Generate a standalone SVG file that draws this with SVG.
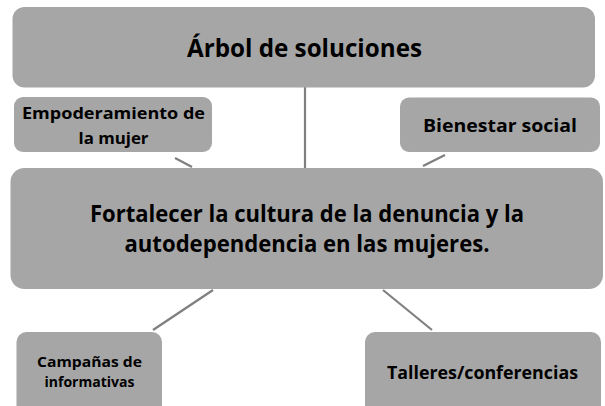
<svg xmlns="http://www.w3.org/2000/svg" width="605" height="406" viewBox="0 0 605 406">
<style>
.box{fill:#a6a6a6;}
.t{font-family:"Open Sans","Liberation Sans",sans-serif;font-weight:bold;fill:#000;text-anchor:middle;}
.c{stroke:#7f7f7f;stroke-width:2.2;fill:none;}
</style>
<rect width="605" height="406" fill="#fff"/>
<g id="connectors">
<line class="c" x1="305" y1="87" x2="305" y2="168"/>
<line class="c" x1="175" y1="158" x2="192" y2="167"/>
<line class="c" x1="423" y1="166" x2="445" y2="155"/>
<line class="c" x1="213" y1="290" x2="153" y2="330"/>
<line class="c" x1="383" y1="290" x2="432" y2="330"/>
</g>
<g id="top">
<rect class="box" x="12.5" y="7" width="582.5" height="80.5" rx="12"/>
<text class="t" x="304.5" y="57" font-size="25" textLength="235" lengthAdjust="spacingAndGlyphs">Árbol de soluciones</text>
</g>
<g id="empoderamiento">
<rect class="box" x="14" y="97" width="198" height="55" rx="9"/>
<text class="t" x="113.5" y="119" font-size="16" textLength="183" lengthAdjust="spacingAndGlyphs">Empoderamiento de</text>
<text class="t" x="113.5" y="144" font-size="16" textLength="70" lengthAdjust="spacingAndGlyphs">la mujer</text>
</g>
<g id="bienestar">
<rect class="box" x="400" y="97.5" width="200" height="54.5" rx="9"/>
<text class="t" x="500" y="132" font-size="18" textLength="154" lengthAdjust="spacingAndGlyphs">Bienestar social</text>
</g>
<g id="main">
<rect class="box" x="10.5" y="168" width="592.5" height="121" rx="14"/>
<text class="t" x="307" y="222" font-size="22.5" textLength="434" lengthAdjust="spacingAndGlyphs">Fortalecer la cultura de la denuncia y la</text>
<text class="t" x="307" y="252" font-size="22.5" textLength="365" lengthAdjust="spacingAndGlyphs">autodependencia en las mujeres.</text>
</g>
<g id="campanas">
<rect class="box" x="16.5" y="332" width="145.5" height="84" rx="10"/>
<text class="t" x="89.5" y="367" font-size="14" textLength="105" lengthAdjust="spacingAndGlyphs">Campañas de</text>
<text class="t" x="89.5" y="387" font-size="14" textLength="90" lengthAdjust="spacingAndGlyphs">informativas</text>
</g>
<g id="talleres">
<rect class="box" x="365" y="332" width="236" height="84" rx="10"/>
<text class="t" x="482.5" y="379" font-size="17" textLength="191" lengthAdjust="spacingAndGlyphs">Talleres/conferencias</text>
</g>
</svg>
